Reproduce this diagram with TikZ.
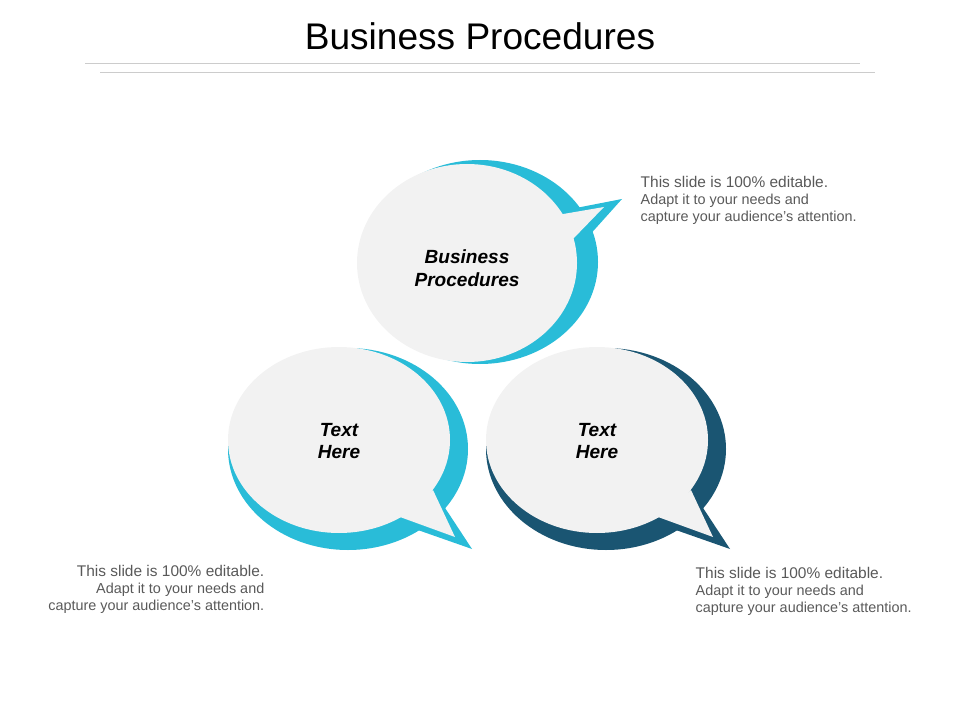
\documentclass[tikz,border=0pt]{standalone}
\usepackage{fontspec}
\setmainfont{Liberation Sans}
\definecolor{cy}{HTML}{29BCD8}
\definecolor{db}{HTML}{1A5572}
\definecolor{bg}{HTML}{F2F2F2}
\definecolor{tx}{HTML}{595959}
\newcommand{\notetext}{This slide is 100\% editable.\\[-1pt]{\fontsize{10.8}{13}\selectfont Adapt it to your needs and}\\[-1pt]{\fontsize{10.8}{13}\selectfont capture your audience's attention.}}
\begin{document}
\begin{tikzpicture}[x=0.75pt,y=-0.75pt,
  bub/.style={font=\fontsize{14.3}{17}\selectfont\bfseries\itshape,align=center},
  note/.style={font=\fontsize{11.6}{13.5}\selectfont,text=tx}]
\useasboundingbox (0,0) rectangle (960,720);
\node[font=\fontsize{27.8}{32}\selectfont] (title) at (480,36) {Business Procedures};
\draw[gray!40] (85,63) -- (860,63);
\draw[gray!40] (100,72) -- (875,72);
% top bubble
\fill[cy] (480,262) ellipse [x radius=118, y radius=102];
\fill[cy] (540,215) -- (622,199) -- (578,248) -- cycle;
\fill[bg] (467,263) ellipse [x radius=110, y radius=99];
\fill[bg] (540,218) -- (604,207) -- (572,240) -- cycle;
\node[bub] (b1) at (467,268) {Business\\Procedures};
% left bubble
\fill[cy] (348,449) ellipse [x radius=120, y radius=101];
\fill[cy] (430,485) -- (472,549) -- (395,522) -- cycle;
\fill[bg] (339,440) ellipse [x radius=111, y radius=93];
\fill[bg] (433,490) -- (455,537) -- (400,517) -- cycle;
\node[bub] (b2) at (339,441) {Text\\Here};
% right bubble
\fill[db] (606,449) ellipse [x radius=120, y radius=101];
\fill[db] (688,485) -- (730,549) -- (653,522) -- cycle;
\fill[bg] (597,440) ellipse [x radius=111, y radius=93];
\fill[bg] (691,490) -- (713,537) -- (658,517) -- cycle;
\node[bub] (b3) at (597,441) {Text\\Here};
% notes
\node[note,anchor=north west,align=left] (n1) at (636,172) {\notetext};
\node[note,anchor=north east,align=right] (n2) at (269,561) {\notetext};
\node[note,anchor=north west,align=left] (n3) at (691,563) {\notetext};
\end{tikzpicture}
\end{document}
